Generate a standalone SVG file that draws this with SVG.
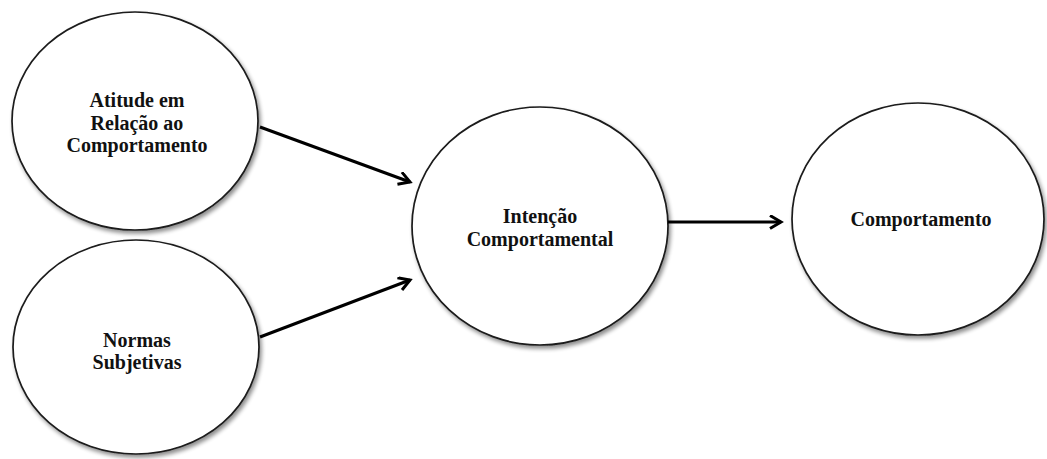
<svg xmlns="http://www.w3.org/2000/svg" width="1047" height="459" viewBox="0 0 1047 459">
  <style>
    .node { fill: #ffffff; stroke: #1a1a1a; stroke-width: 1.7; filter: url(#shadow); }
    .label { font-family: "Liberation Serif", "Times New Roman", serif; font-weight: bold; font-size: 20px; fill: #111111; text-anchor: middle; }
    .edge { fill: none; stroke: #000000; stroke-width: 3; marker-end: url(#arrow); }
  </style>
  <defs>
    <!-- soft grey drop shadow under each ellipse -->
    <filter id="shadow" x="-10%" y="-10%" width="125%" height="125%">
      <feGaussianBlur in="SourceAlpha" stdDeviation="2"/>
      <feOffset dx="2" dy="3" result="off"/>
      <feComponentTransfer><feFuncA type="linear" slope="0.45"/></feComponentTransfer>
      <feMerge><feMergeNode/><feMergeNode in="SourceGraphic"/></feMerge>
    </filter>
    <!-- open chevron arrowhead -->
    <marker id="arrow" markerUnits="userSpaceOnUse" markerWidth="20" markerHeight="20" refX="13" refY="7" orient="auto">
      <path d="M2,0.5 L13,7 L2,13.5" fill="none" stroke="#000000" stroke-width="3" stroke-linejoin="miter"/>
    </marker>
  </defs>

  <rect width="1047" height="459" fill="#ffffff"/>

  <g id="node-atitude">
    <ellipse class="node" cx="135" cy="121" rx="123" ry="109"/>
    <text class="label" x="137" y="107">Atitude em</text>
    <text class="label" x="137" y="130">Relação ao</text>
    <text class="label" x="137" y="152">Comportamento</text>
  </g>

  <g id="node-normas">
    <ellipse class="node" cx="136" cy="347" rx="123" ry="107"/>
    <text class="label" x="137" y="347">Normas</text>
    <text class="label" x="137" y="369">Subjetivas</text>
  </g>

  <g id="node-intencao">
    <ellipse class="node" cx="540" cy="226" rx="128" ry="119"/>
    <text class="label" x="540" y="223">Intenção</text>
    <text class="label" x="540" y="246">Comportamental</text>
  </g>

  <g id="node-comportamento">
    <ellipse class="node" cx="918" cy="219" rx="126" ry="116"/>
    <text class="label" x="921" y="226">Comportamento</text>
  </g>

  <g id="connectors">
    <line class="edge" x1="260" y1="127" x2="410" y2="182"/>
    <line class="edge" x1="260" y1="337" x2="410" y2="280"/>
    <line class="edge" x1="668" y1="222" x2="781" y2="222"/>
  </g>
</svg>
